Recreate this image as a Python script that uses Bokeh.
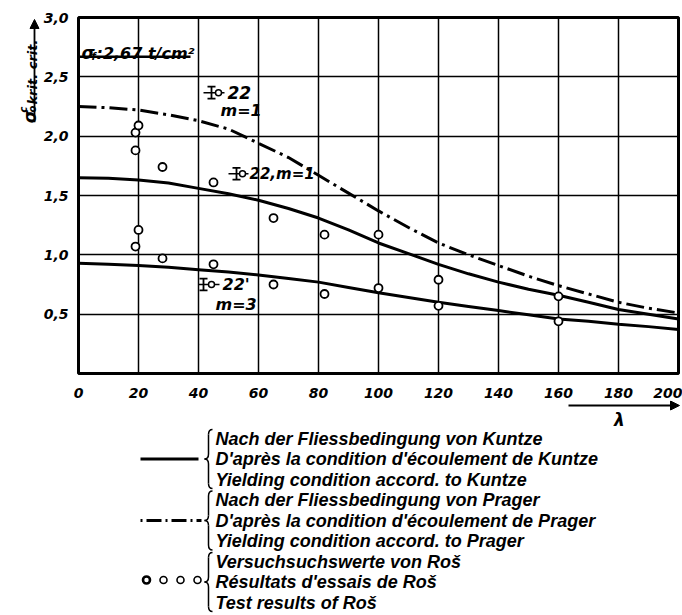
import math
from bokeh.plotting import figure
from bokeh.models import Range1d, FixedTicker, Arrow, NormalHead
from bokeh.layouts import column, row
from bokeh.embed import file_html
from bokeh.resources import INLINE
from bokeh.core.properties import value

# ---------------- data ----------------
lam = [0, 10, 20, 30, 40, 50, 60, 70, 80, 90, 100, 110, 120, 130, 140, 150, 160, 170, 180, 190, 200]
prager = [2.25, 2.24, 2.22, 2.18, 2.13, 2.06, 1.94, 1.82, 1.67, 1.52, 1.37, 1.23, 1.10, 1.00, 0.91, 0.82, 0.74, 0.67, 0.60, 0.55, 0.51]
kuntze_m1 = [1.65, 1.645, 1.63, 1.605, 1.56, 1.515, 1.46, 1.39, 1.31, 1.21, 1.10, 1.01, 0.92, 0.84, 0.77, 0.71, 0.66, 0.60, 0.54, 0.50, 0.46]
kuntze_m3 = [0.93, 0.92, 0.91, 0.895, 0.875, 0.855, 0.83, 0.80, 0.77, 0.725, 0.68, 0.64, 0.60, 0.565, 0.53, 0.495, 0.46, 0.44, 0.415, 0.395, 0.37]

test_lam = [19, 20, 19, 20, 19, 28, 28, 45, 45, 65, 65, 82, 82, 100, 100, 120, 120, 160, 160]
test_sigma = [2.03, 2.09, 1.88, 1.21, 1.07, 1.74, 0.97, 1.61, 0.92, 1.31, 0.75, 1.17, 0.67, 1.17, 0.72, 0.79, 0.57, 0.65, 0.44]

sigma_f = 2.67
x_ticks = [0, 20, 40, 60, 80, 100, 120, 140, 160, 180, 200]
y_ticks = [0.5, 1.0, 1.5, 2.0, 2.5, 3.0]
y_tick_labels = ["0,5", "1,0", "1,5", "2,0", "2,5", "3,0"]

legend_lines = [
    "Nach der Fliessbedingung  von Kuntze",
    "D'après la condition d'écoulement de Kuntze",
    "Yielding condition accord. to Kuntze",
    "Nach der Fliessbedingung  von Prager",
    "D'après la condition d'écoulement de Prager",
    "Yielding condition accord. to Prager",
    "Versuchsuchswerte  von Roš",
    "Résultats d'essais de Roš",
    "Test results of Roš",
]

FONT = "DejaVu Sans"
LFONT = "Liberation Sans"
PAGE_W = 682
YL_W = 40
H1 = 400
H2 = 215

# page-pixel -> data helpers (for annotation placement only)
FL, FR, FT, FB = 78, 678, 17, 377
def X(px):
    return (px - FL) / (FR - FL) * 200.0
def Y(py):
    return (FB - py) / (FB - FT) * 3.0

# ---------------- main chart ----------------
p = figure(width=PAGE_W - YL_W, height=H1, x_range=Range1d(0, 200), y_range=Range1d(0, 3),
           output_backend="svg", toolbar_location=None,
           min_border_left=FL - YL_W, min_border_right=PAGE_W - FR, min_border_top=FT,
           min_border_bottom=H1 - FB)
p.background_fill_color = "white"
p.border_fill_color = "white"
p.outline_line_color = "black"
p.outline_line_width = 3

for ax in (p.xaxis[0], p.yaxis[0]):
    ax.axis_line_color = None
    ax.major_tick_line_color = None
    ax.minor_tick_line_color = None
    ax.major_label_text_font = FONT
    ax.major_label_text_font_style = "bold italic"
    ax.major_label_text_font_size = "14px"
    ax.major_label_text_color = "black"

p.xaxis.ticker = FixedTicker(ticks=x_ticks)
p.xaxis.major_label_standoff = 8
p.yaxis.ticker = FixedTicker(ticks=y_ticks)
p.yaxis.major_label_overrides = {t: s for t, s in zip(y_ticks, y_tick_labels)}
p.yaxis.major_label_standoff = 4

p.xgrid.ticker = FixedTicker(ticks=x_ticks)
p.ygrid.ticker = FixedTicker(ticks=y_ticks)
for g in (p.xgrid[0], p.ygrid[0]):
    g.grid_line_color = "black"
    g.grid_line_width = 1.5
    g.grid_line_alpha = 1.0

# curves
p.line(lam, prager, line_color="black", line_width=3, line_dash="18 5 3 5")
p.line(lam, kuntze_m1, line_color="black", line_width=3)
p.line(lam, kuntze_m3, line_color="black", line_width=3)

# test points
p.scatter(test_lam, test_sigma, marker="circle", size=8, fill_color="white",
          line_color="black", line_width=1.8)

# yield stress line + text
p.segment(x0=[0], y0=[sigma_f], x1=[X(190)], y1=[sigma_f], line_color="black", line_width=2.5)
bold_it = dict(text_font=value(FONT), text_font_style="bold italic", text_color="black")
p.text(x=[X(81)], y=[Y(53)], text=["σ"], text_font_size="17px", text_baseline="alphabetic", **bold_it)
p.text(x=[X(91)], y=[Y(56)], text=["f"], text_font_size="10px", text_baseline="alphabetic", **bold_it)
p.text(x=[X(96)], y=[Y(53)], text=[":2,67 t/cm²"], text_font_size="16px", text_baseline="alphabetic", **bold_it)

# specimen symbols with annotations
def specimen(ix, py, left, right, cx):
    p.segment(x0=[X(left)], y0=[Y(py)], x1=[X(right)], y1=[Y(py)], line_color="black", line_width=1.5)
    p.segment(x0=[X(ix)], y0=[Y(py - 6)], x1=[X(ix)], y1=[Y(py + 6)], line_color="black", line_width=1.8)
    p.segment(x0=[X(ix - 4), X(ix - 4)], y0=[Y(py - 6), Y(py + 6)],
              x1=[X(ix + 4), X(ix + 4)], y1=[Y(py - 6), Y(py + 6)], line_color="black", line_width=1.8)
    p.scatter(x=[X(cx)], y=[Y(py)], marker="circle", size=6, fill_color="white",
              line_color="black", line_width=1.5)

specimen(211, 93, 203, 224, 218)
p.text(x=[X(227)], y=[Y(93)], text=["22"], text_font_size="17px", text_baseline="middle", **bold_it)
p.text(x=[X(220)], y=[Y(111)], text=["m=1"], text_font_size="16px", text_baseline="middle", **bold_it)

specimen(236, 175, 228, 248, 242)
p.text(x=[X(249)], y=[Y(175)], text=["22,m=1"], text_font_size="15px", text_baseline="middle", **bold_it)

specimen(203, 287, 198, 219, 211)
p.text(x=[X(222)], y=[Y(287)], text=["22'"], text_font_size="16px", text_baseline="middle", **bold_it)
p.text(x=[X(215)], y=[Y(307)], text=["m=3"], text_font_size="16px", text_baseline="middle", **bold_it)

# ---------------- y-axis title panel (page-pixel coordinates, y up) ----------------
# its frame is given the same vertical extent as the main frame (page y 17..377)
yl = figure(width=YL_W, height=H1, x_range=Range1d(0, YL_W), y_range=Range1d(H1 - FB, H1 - FT),
            output_backend="svg", toolbar_location=None,
            x_axis_location=None, y_axis_location=None,
            min_border=0, min_border_left=0, min_border_right=0, min_border_top=FT,
            min_border_bottom=H1 - FB)
yl.outline_line_color = None
yl.xgrid.visible = False
yl.ygrid.visible = False
yl.background_fill_color = "white"
yl.border_fill_color = "white"

def YY(py):
    return H1 - py

rot = dict(text_font=value(FONT), text_font_style="bold italic", text_color="black",
           angle=math.pi / 2, text_align="left", text_baseline="alphabetic")
yl.text(x=[29], y=[YY(124)], text=["σ"], text_font_size="17px", **rot)
yl.text(x=[23], y=[YY(113)], text=["c"], text_font_size="10px", **rot)
yl.text(x=[32], y=[YY(113)], text=["o"], text_font_size="10px", **rot)
yl.text(x=[32], y=[YY(105)], text=["krit. crit."], text_font_size="13px", **rot)
yl.add_layout(Arrow(x_start=34, y_start=YY(123), x_end=34, y_end=YY(19),
                    line_color="black", line_width=1.8,
                    end=NormalHead(size=9, fill_color="black", line_color="black")))

# ---------------- legend panel (page-pixel coordinates, y down) ----------------
q = figure(width=PAGE_W, height=H2, x_range=Range1d(0, PAGE_W), y_range=Range1d(H1 + H2, H1),
           output_backend="svg", toolbar_location=None,
           x_axis_location=None, y_axis_location=None,
           min_border=0, min_border_left=0, min_border_right=0, min_border_top=0, min_border_bottom=0)
q.outline_line_color = None
q.xgrid.visible = False
q.ygrid.visible = False
q.background_fill_color = "white"
q.border_fill_color = "white"

# lambda arrow
q.add_layout(Arrow(x_start=568, y_start=405, x_end=679, y_end=405, line_color="black", line_width=2,
                   end=NormalHead(size=9, fill_color="black", line_color="black")))
q.text(x=[619], y=[419], text=["λ"], text_font=value(FONT), text_font_style="bold italic",
       text_font_size="17px", text_align="center", text_baseline="middle", text_color="black")

rows = [438 + 20.5 * i for i in range(9)]
q.text(x=[215] * 9, y=rows, text=legend_lines, text_font=value(LFONT), text_font_style="bold italic",
       text_font_size="18px", text_baseline="middle", text_color="black")

# legend keys
q.segment(x0=[140], y0=[rows[1]], x1=[198], y1=[rows[1]], line_color="black", line_width=3)
q.segment(x0=[140], y0=[rows[4]], x1=[201], y1=[rows[4]], line_color="black", line_width=3,
          line_dash="2 4 15 4")
q.scatter(x=[146, 163, 180, 197], y=[rows[7] - 2] * 4, marker="circle", size=7, fill_color="white",
          line_color="black", line_width=[2.6, 1.6, 1.6, 1.6])

# braces
for g in range(3):
    top = rows[3 * g] - 9
    bot = rows[3 * g + 2] + 9
    mid = rows[3 * g + 1]
    q.quadratic(x0=[212, 208, 204, 208], y0=[top, mid - 5, mid, bot - 5],
                x1=[208, 204, 208, 212], y1=[top + 5, mid, mid + 5, bot],
                cx=[208, 208, 208, 208], cy=[top, mid, mid, bot],
                line_color="black", line_width=1.5)
    q.segment(x0=[208, 208], y0=[top + 5, mid + 5], x1=[208, 208], y1=[mid - 5, bot - 5],
              line_color="black", line_width=1.5)

layout = column(row(yl, p, spacing=0), q, spacing=0)
open("out.html", "w").write(file_html(layout, INLINE))
